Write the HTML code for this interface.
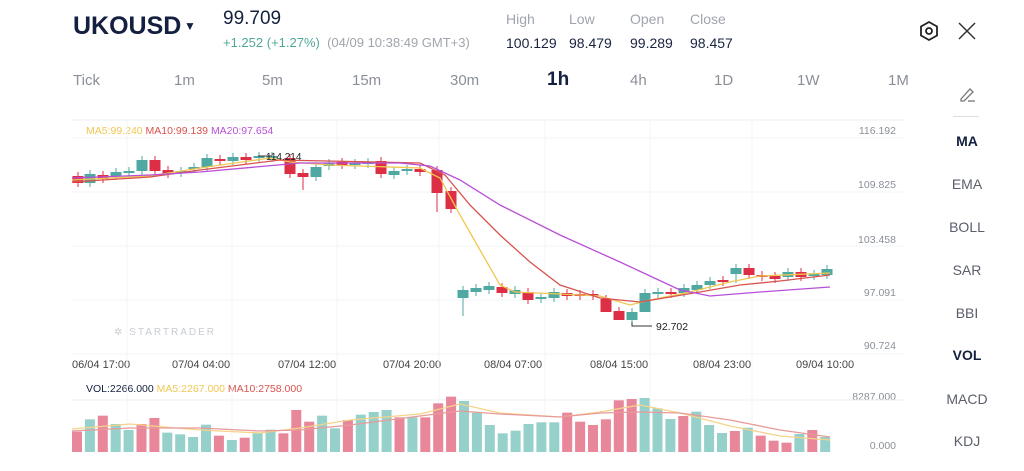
<!DOCTYPE html><html><head><meta charset="utf-8"><style>
body{margin:0;width:1024px;height:471px;background:#fff;font-family:"Liberation Sans",sans-serif;overflow:hidden;position:relative;color:#1a2340}
.a{position:absolute;white-space:nowrap}
.g{color:#a0a4ad}
.tab{position:absolute;top:72px;font-size:15px;color:#8a8f98}
.r{position:absolute;left:925px;width:84px;text-align:center;font-size:14px;color:#5a5f6a}
.ax{position:absolute;right:128px;font-size:10.5px;color:#8a8f98;text-align:right}
.tl{position:absolute;top:359px;font-size:11px;color:#444}
</style></head><body>
<div class="a" style="left:73px;top:12px;font-size:25px;font-weight:bold;color:#14203f">UKOUSD</div>
<div class="a" style="left:184px;top:19px;font-size:12px;color:#14203f">▼</div>
<div class="a" style="left:223px;top:8px;font-size:19px;color:#14203f">99.709</div>
<div class="a" style="left:223px;top:35px;font-size:13px"><span style="color:#4fa89a">+1.252 (+1.27%)</span> <span class="g">&nbsp;(04/09 10:38:49 GMT+3)</span></div>
<div class="a g" style="left:506px;top:11px;font-size:14px">High</div>
<div class="a g" style="left:569px;top:11px;font-size:14px">Low</div>
<div class="a g" style="left:630px;top:11px;font-size:14px">Open</div>
<div class="a g" style="left:690px;top:11px;font-size:14px">Close</div>
<div class="a" style="left:506px;top:35px;font-size:14px">100.129</div>
<div class="a" style="left:569px;top:35px;font-size:14px">98.479</div>
<div class="a" style="left:630px;top:35px;font-size:14px">99.289</div>
<div class="a" style="left:690px;top:35px;font-size:14px">98.457</div>
<svg class="a" style="left:917px;top:19px" width="24" height="24"><polygon points="12,3 20,7.5 20,16.5 12,21 4,16.5 4,7.5" fill="none" stroke="#222" stroke-width="1.8"/><circle cx="12" cy="12" r="3" fill="none" stroke="#222" stroke-width="1.8"/></svg>
<svg class="a" style="left:957px;top:21px" width="20" height="20"><path d="M2 2L18 18M18 2L2 18" stroke="#333" stroke-width="1.5"/></svg>
<div class="tab" style="left:73px">Tick</div><div class="tab" style="left:174px">1m</div><div class="tab" style="left:262px">5m</div><div class="tab" style="left:352px">15m</div><div class="tab" style="left:450px">30m</div><div class="tab" style="left:547px;top:69px;font-size:19px;color:#14203f;font-weight:bold">1h</div><div class="tab" style="left:630px">4h</div><div class="tab" style="left:714px">1D</div><div class="tab" style="left:797px">1W</div><div class="tab" style="left:888px">1M</div>
<svg class="a" style="left:957px;top:84px" width="20" height="20"><path d="M4 15L13 5l3 3-9 9H4z" fill="none" stroke="#777" stroke-width="1.3"/><path d="M11 17h7" stroke="#777" stroke-width="1.3"/></svg>
<div class="a" style="left:953px;top:116px;width:26px;height:1px;background:#ddd"></div>
<div class="r" style="top:133px;font-weight:bold;color:#14203f">MA</div>
<div class="r" style="top:176px">EMA</div><div class="r" style="top:219px">BOLL</div><div class="r" style="top:262px">SAR</div><div class="r" style="top:305px">BBI</div>
<div class="r" style="top:347px;font-weight:bold;color:#14203f">VOL</div>
<div class="r" style="top:391px">MACD</div><div class="r" style="top:433px">KDJ</div>
<div class="ax" style="top:125px">116.192</div><div class="ax" style="top:179px">109.825</div><div class="ax" style="top:234px">103.458</div><div class="ax" style="top:287px">97.091</div><div class="ax" style="top:340px">90.724</div><div class="ax" style="top:391px">8287.000</div><div class="ax" style="top:440px">0.000</div>
<div class="a" style="left:86px;top:125px;font-size:10.5px"><span style="color:#f0c850">MA5:99.240</span> <span style="color:#d9534f">MA10:99.139</span> <span style="color:#b84fd8">MA20:97.654</span></div>
<div class="a" style="left:86px;top:383px;font-size:10.5px"><span style="color:#14203f">VOL:2266.000</span> <span style="color:#f0c850">MA5:2267.000</span> <span style="color:#d9534f">MA10:2758.000</span></div>
<div class="a" style="left:114px;top:327px;font-size:10px;color:#c8ccd2;letter-spacing:2px">✲ STARTRADER</div>
<div class="tl" style="left:72px">06/04 17:00</div><div class="tl" style="left:172px">07/04 04:00</div><div class="tl" style="left:278px">07/04 12:00</div><div class="tl" style="left:383px">07/04 20:00</div><div class="tl" style="left:484px">08/04 07:00</div><div class="tl" style="left:590px">08/04 15:00</div><div class="tl" style="left:693px">08/04 23:00</div><div class="tl" style="left:796px">09/04 10:00</div>
<svg id="s" class="a" style="left:0;top:0" width="1024" height="471"></svg>
<script>
var s='';
// grid
[138,192,246,300,354].forEach(function(y){s+='<line x1="72" x2="905" y1="'+y+'" y2="'+y+'" stroke="#f2f3f5"/>';});
[120,400].forEach(function(y){s+='<line x1="72" x2="905" y1="'+y+'" y2="'+y+'" stroke="#eef0f2"/>';});
[127,232,337,439,545,650,752].forEach(function(x){s+='<line x1="'+x+'" x2="'+x+'" y1="120" y2="455" stroke="#f4f5f7"/>';});
var R='#dc2e45',T='#4fa8a2';
var c=[[78,'r',176,183],[90,'t',174,183],[103,'r',175,179],[116,'t',172,176],[129,'t',171,173],[142,'t',160,171],[155,'r',160,171],[168,'r',170,174],[181,'t',171,173],[194,'t',167,169],[207,'t',158,167],[220,'r',159,161],[233,'t',157,161],[246,'r',157,160],[259,'t',156,158],[272,'t',156,158],[290,'r',158,174],[303,'r',173,177],[316,'t',167,177],[329,'t',163,166],[342,'r',162,165],[355,'t',163,165],[368,'t',162,164],[381,'r',161,174],[394,'t',171,175],[407,'t',169,171],[420,'r',169,172],[437,'r',170,193],[451,'r',191,209],[463,'t',290,298],[476,'t',288,292],[489,'t',286,290],[502,'r',287,293],[515,'t',290,294],[528,'r',292,300],[541,'t',297,299],[554,'t',292,298],[567,'r',293,296],[580,'r',294,296],[593,'r',294,296],[606,'r',299,312],[619,'r',311,320],[632,'t',312,320],[645,'t',293,312],[658,'t',292,294],[671,'r',292,294],[684,'t',288,293],[697,'t',285,290],[710,'t',281,285],[723,'r',280,282],[736,'t',268,274],[749,'r',268,275],[762,'r',275,277],[775,'r',276,279],[788,'t',272,277],[801,'r',272,277],[814,'t',274,276],[827,'t',269,275]];
var wk={17:190,27:212,29:316,34:304,40:312,41:320,42:326,43:310,50:283};
c.forEach(function(d,i){var col=d[1]=='r'?R:T;var lo=wk[i]||d[3]+4;
s+='<line x1="'+d[0]+'" x2="'+d[0]+'" y1="'+(d[2]-4)+'" y2="'+lo+'" stroke="'+col+'"/>';
s+='<rect x="'+(d[0]-5.5)+'" y="'+d[2]+'" width="11" height="'+Math.max(1.5,d[3]-d[2])+'" fill="'+col+'"/>';});
function pl(p,col){s+='<polyline points="'+p+'" fill="none" stroke="'+col+'" stroke-width="1.3"/>';}
pl('72,180 150,176 200,168 270,158 290,162 330,165 420,168 440,178 460,215 480,250 500,285 515,292 560,294 600,296 630,305 650,300 690,292 730,282 760,276 830,273','#f0c850');
pl('72,182 150,177 200,170 280,160 420,163 445,175 470,205 500,235 530,262 560,285 600,298 640,302 700,292 740,285 780,281 830,275','#d9534f');
pl('72,178 150,175 200,172 300,163 400,163 430,166 460,180 500,205 560,235 620,262 680,290 710,296 760,292 830,287','#b84fd8');
s+='<line x1="258" x2="272" y1="156" y2="156" stroke="#333"/><text x="266" y="160" font-size="10" fill="#222" font-family="Liberation Sans">114.214</text>';
s+='<polyline points="632,322 632,326 652,326" fill="none" stroke="#333"/><text x="656" y="330" font-size="10.5" fill="#222" font-family="Liberation Sans">92.702</text>';
var h=[155,118,107,132,150,132,114,158,163,171,134,167,180,173,160,149,160,90,125,107,145,120,104,96,90,112,112,112,70,50,63,98,135,160,152,132,127,127,98,125,135,118,61,57,54,85,117,108,95,135,159,153,143,167,182,188,162,150,171];
var cl='rrrtttrrtttrtrtttrrttrttrttrrrtttrtttrrrrrrtttrtttrtrrrtrtt';
cl='rtrttrrttttrtrttrrrttrtttrtrrrttttttttrrrrrrtttrtttrtrrrtrtt';
h.forEach(function(v,i){var y=380+v/3;s+='<rect x="'+(72+i*12.9)+'" y="'+y+'" width="10" height="'+(452-y)+'" fill="'+(cl[i]=='r'?'#e8869a':'#95d0ca')+'"/>';});
pl('72,429 130,424 200,430 260,433 300,428 350,420 420,414 460,404 500,413 560,417 600,412 640,405 680,413 730,426 780,436 830,440','#f5d38a');
pl('72,431 130,428 200,428 260,431 300,430 350,425 420,416 460,411 500,414 560,417 600,413 640,412 680,413 730,420 780,430 830,437','#e89a9a');
document.getElementById('s').innerHTML=s;
</script></body></html>
